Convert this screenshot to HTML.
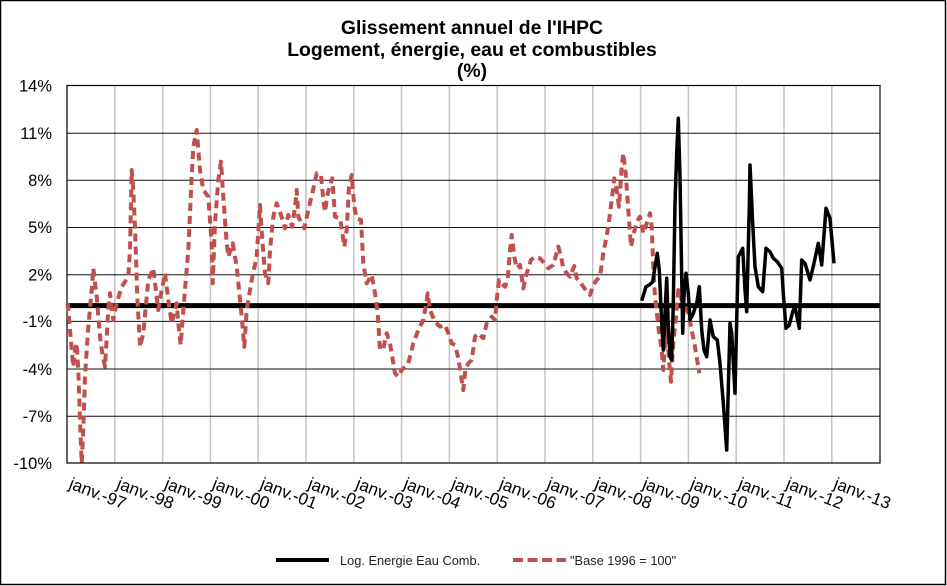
<!DOCTYPE html>
<html><head><meta charset="utf-8"><style>
html,body{margin:0;padding:0;background:#fff;}
body{width:947px;height:586px;overflow:hidden;}
svg{display:block;font-family:"Liberation Sans",Arial,sans-serif;}
</style></head><body>
<svg width="947" height="586" viewBox="0 0 947 586" xmlns="http://www.w3.org/2000/svg">
<rect x="0.5" y="0.5" width="945" height="584" fill="#fff" stroke="#000" stroke-width="1.5"/>
<g font-weight="bold" font-size="19.4" text-anchor="middle" fill="#000">
<text x="472" y="34">Glissement annuel de l'IHPC</text>
<text x="472" y="56">Logement, énergie, eau et combustibles</text>
<text x="472" y="77">(%)</text>
</g>
<!-- vertical grid -->
<g stroke="#c4c4c4" stroke-width="1.5">
<line x1="114.8" y1="86" x2="114.8" y2="463"/><line x1="162.6" y1="86" x2="162.6" y2="463"/>
<line x1="210.4" y1="86" x2="210.4" y2="463"/><line x1="258.2" y1="86" x2="258.2" y2="463"/>
<line x1="306" y1="86" x2="306" y2="463"/><line x1="353.8" y1="86" x2="353.8" y2="463"/>
<line x1="401.6" y1="86" x2="401.6" y2="463"/><line x1="449.4" y1="86" x2="449.4" y2="463"/>
<line x1="497.2" y1="86" x2="497.2" y2="463"/><line x1="545" y1="86" x2="545" y2="463"/>
<line x1="592.8" y1="86" x2="592.8" y2="463"/><line x1="640.6" y1="86" x2="640.6" y2="463"/>
<line x1="688.4" y1="86" x2="688.4" y2="463"/><line x1="736.2" y1="86" x2="736.2" y2="463"/>
<line x1="784" y1="86" x2="784" y2="463"/><line x1="831.8" y1="86" x2="831.8" y2="463"/>
</g>
<!-- horizontal grid -->
<g stroke="#111" stroke-width="1">
<line x1="67" y1="133.2" x2="880" y2="133.2"/><line x1="67" y1="180.3" x2="880" y2="180.3"/>
<line x1="67" y1="227.5" x2="880" y2="227.5"/><line x1="67" y1="274.7" x2="880" y2="274.7"/>
<line x1="67" y1="321.4" x2="880" y2="321.4"/><line x1="67" y1="369" x2="880" y2="369"/>
<line x1="67" y1="416.2" x2="880" y2="416.2"/>
</g>
<rect x="67" y="85.5" width="813" height="377.5" fill="none" stroke="#000" stroke-width="1.2"/>
<!-- zero line -->
<line x1="67" y1="305.6" x2="880" y2="305.6" stroke="#000" stroke-width="5"/>
<!-- y labels -->
<g font-size="16.5" text-anchor="end" fill="#000">
<text x="52" y="91.5">14%</text><text x="52" y="139">11%</text><text x="52" y="186">8%</text>
<text x="52" y="233">5%</text><text x="52" y="280.5">2%</text><text x="52" y="327">-1%</text>
<text x="52" y="375">-4%</text><text x="52" y="422">-7%</text><text x="52" y="469">-10%</text>
</g>
<!-- x labels -->
<g font-size="17" fill="#000">
<text transform="translate(68,488) rotate(21)">janv.-97</text>
<text transform="translate(115.8,488) rotate(21)">janv.-98</text>
<text transform="translate(163.6,488) rotate(21)">janv.-99</text>
<text transform="translate(211.4,488) rotate(21)">janv.-00</text>
<text transform="translate(259.2,488) rotate(21)">janv.-01</text>
<text transform="translate(307,488) rotate(21)">janv.-02</text>
<text transform="translate(354.8,488) rotate(21)">janv.-03</text>
<text transform="translate(402.6,488) rotate(21)">janv.-04</text>
<text transform="translate(450.4,488) rotate(21)">janv.-05</text>
<text transform="translate(498.2,488) rotate(21)">janv.-06</text>
<text transform="translate(546,488) rotate(21)">janv.-07</text>
<text transform="translate(593.8,488) rotate(21)">janv.-08</text>
<text transform="translate(641.6,488) rotate(21)">janv.-09</text>
<text transform="translate(689.4,488) rotate(21)">janv.-10</text>
<text transform="translate(737.2,488) rotate(21)">janv.-11</text>
<text transform="translate(785,488) rotate(21)">janv.-12</text>
<text transform="translate(832.8,488) rotate(21)">janv.-13</text>
</g>
<!-- red dashed series -->
<polyline fill="none" stroke="#C0504D" stroke-width="4" stroke-dasharray="8 5" stroke-linejoin="round" points="67.5,303 68.3,310 70,330 71.7,350 73.3,366.7 75,350 76.7,343.3 78.3,370 80,420 81.7,463 83.3,430 85,376.7 88.3,326.7 91.7,290 93.3,268.3 96.7,296.7 100,336.7 102.5,355 105,366.7 108.3,310 110,293.3 113.3,320 116.7,303.3 121.7,286.7 128.3,276.7 130,250 131.7,170 133,185 135,226.7 137.3,296.7 140,346.7 143.3,333.3 148.3,280 153.3,268.3 156.7,296.7 158.3,310 161.7,290 165,273.3 168.3,300 171.7,323.3 176.7,303.3 178.3,323.3 180.7,345 183.3,310 188.3,250 191.7,176.7 193.3,146.7 196.7,130 200,170 203.3,190 208.3,196.7 211.7,243.3 212.7,283.3 215,223.3 218.3,180 221,161.7 223.3,196.7 226.7,243.3 228.3,256.7 232.7,243.3 236.7,266.7 241.7,316.7 244.3,346.7 246.7,310 251.7,280 256.7,256.7 260,205 262.3,240 265,273.3 268.3,283.3 270,250 273.3,216.7 276.7,203.3 281,215 285,228.3 288.3,215 292.3,226.7 295,206.7 296.7,190 298.3,216.7 304.3,228.3 308.3,210 312.3,193.3 316.7,173.3 321,175 323.3,200 325,211.7 327.7,193.3 332.3,178.3 335,216.7 340,218.3 341.7,228.3 344.3,246.7 346.7,230 349,186.7 351.7,175 354.3,206.7 356.7,218.3 361,220 363.3,263.3 366.7,283.3 371.7,275 375,293.3 377.7,313.3 380,350 383.3,348.3 386.7,333.3 390,343.3 395,373.3 398.3,376.7 401.7,370 408.3,363.3 413.3,343.3 418.3,330 423.3,320 425.7,306.7 427.7,293.3 430,310 435,321.7 440,326.7 445,325 448.3,333.3 451.7,343.3 455,345 458.3,358 461.7,380 463.3,390 465.3,370 468.3,363.3 471.7,360 475,336.7 478.3,333.3 483.3,338.3 486.7,323.3 491.7,316.7 495,320 496.7,300 499,280 501.7,283.3 505,286.7 507.7,280 510,250 511.7,235 514.3,256.7 516.7,268.3 520,265 523.3,288.3 526.7,273.3 531,260 535,256.7 540,258.3 544.3,263.3 548.3,268.3 553.3,265 558.3,246.7 561,256.7 563.3,268.3 566.7,273.3 570,276.7 574.3,266 576.7,278.3 581,283.3 586.7,291.7 590,295 593.3,285 596.7,280 600,276.7 603.3,253.3 608.3,226.7 611.7,200 614.3,178.3 616.7,190 619,206.7 621.7,166.7 623.3,153.3 625.7,173.3 628.3,210 631,246.7 633.3,235 636.7,222 640,216.7 643.3,233.3 646.7,223.3 650,213.3 651.7,226.7 653.3,266.7 655,296.7 658.3,326.7 661.7,350 663.3,370 665,343.3 666.7,323.3 669.3,363.3 671,381.7 673.3,343.3 676.7,310 678.3,290 681.7,300 685,303.3 688.3,313.3 691.7,330 695,346.7 699.3,373.3"/>
<!-- black series -->
<polyline fill="none" stroke="#000" stroke-width="3.5" stroke-linejoin="round" points="641.7,300.7 646,286.7 649.3,285 652.7,281.7 655,266.7 657.3,253.3 659.3,270 661.7,323.3 663.3,350 665,313.3 666.7,278.3 668.3,326.7 670,356.7 671.7,360 673.3,303.3 675,203.3 676.7,153.3 678.3,118.3 680,176.7 681.7,276.7 682.7,333.3 684.3,290 686,273.3 688.3,293.3 690,320 693.3,313.3 696.7,303.3 699.3,286.7 701.7,330 704,350 706.7,356.7 710,320 713.3,336.7 717.3,340 720,363.3 723.3,403.3 726.7,450 730,323.3 731.7,333.3 735,393.3 736.7,320 738.3,256.7 742.7,248.3 745,290 746.7,311.7 749.3,206.7 750,165 752.7,223.3 755,266.7 758.3,286.7 762.7,291.7 766,248.3 770,251.7 773.3,258.3 777.3,261.7 781.7,268.3 783.3,293.3 786,328.3 789.3,325 792.7,311.7 795,306.7 796.7,315 799.3,328.3 801.7,260 805,263.3 810,280 814,263.3 818.3,243.3 821.7,265 826,208.3 830,218.3 834,263.3"/>
<!-- legend -->
<line x1="276" y1="560" x2="329" y2="560" stroke="#000" stroke-width="4"/>
<text x="340" y="565" font-size="12.8" fill="#222">Log. Energie Eau Comb.</text>
<line x1="513" y1="560" x2="566" y2="560" stroke="#C0504D" stroke-width="4" stroke-dasharray="10 4.5"/>
<text x="570" y="565" font-size="12.8" fill="#222">"Base 1996 = 100"</text>
</svg>
</body></html>
